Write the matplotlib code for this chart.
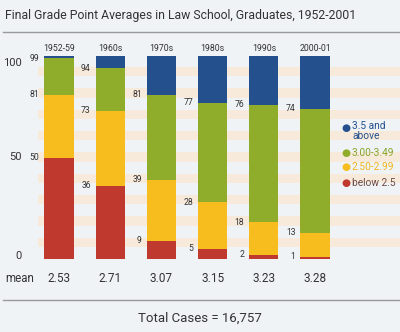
import numpy as np
import matplotlib
matplotlib.use("Agg")
import matplotlib.pyplot as plt

plt.rcParams["font.family"] = ["Roboto", "DejaVu Sans"]

periods = ["1952-59", "1960s", "1970s", "1980s", "1990s", "2000-01"]
means = ["2.53", "2.71", "3.07", "3.15", "3.23", "3.28"]
# cumulative tops of each band (percent)
below_25 = [50, 36, 9, 5, 2, 1]
upto_299 = [81, 73, 39, 28, 18, 13]
upto_349 = [99, 94, 81, 77, 76, 74]
total = [100, 100, 100, 100, 100, 100]

series = ["below 2.5", "2.50-2.99", "3.00-3.49", "3.5 and\nabove"]
colors = ["#c0392e", "#f7bd1f", "#8fad2b", "#24508e"]
text_colors = ["#6e4a44", "#f0b51c", "#86a52a", "#24508e"]

bg = "#eff3f6"
stripe = "#f7eadb"
ink = "#333333"

fig = plt.figure(figsize=(4, 3.32), dpi=100, facecolor=bg)
ax = fig.add_axes([0, 1 - 262 / 332, 1, 210 / 332])
ax.set_facecolor(bg)
for s in ax.spines.values():
    s.set_visible(False)
ax.set_xticks([])
ax.set_yticks([])

x = np.arange(len(periods))
ax.set_xlim(-59 / 51.2, (400 - 59) / 51.2)
ax.set_ylim(-3 / 2.03, 100 + 4 / 2.03)

# striped background
for k in np.arange(6, 100, 10.5):
    ax.axhspan(k, k + 4.5, xmin=0.095, xmax=1, color=stripe, lw=0, zorder=0)

tops = [below_25, upto_299, upto_349, total]
bottom = np.zeros(len(periods))
for top, c in zip(tops, colors):
    top = np.array(top, dtype=float)
    ax.bar(x, top - bottom, bottom=bottom, width=0.57, color=c, zorder=2)
    bottom = top

# cumulative labels left of the bars
for top in [below_25, upto_299, upto_349]:
    for i, v in enumerate(top):
        ax.text(i - 0.38, v, str(v), ha="right", va="center",
                fontsize=6.2, color=ink)

for i, p in enumerate(periods):
    ax.text(i, 103.5, p, ha="center", va="center", fontsize=6.3,
            color=ink, clip_on=False)
    ax.text(i, -9.5, means[i], ha="center", va="center", fontsize=8.5,
            color=ink, clip_on=False)

ax.text(-1.15 + 5 / 51.2, -9.5, "mean", ha="left", va="center",
        fontsize=8.3, color=ink, clip_on=False)

# y labels
for v, yy in [("100", 96.5), ("50", 50), ("0", 1.5)]:
    ax.text(-1.15 + 22 / 51.2, yy, v, ha="right", va="center",
            fontsize=8, color=ink, clip_on=False)

# legend
leg_y = [183, 167, 153, 128]
for lab, c, tc, py in zip(series, colors, text_colors, leg_y):
    fy = 1 - py / 332
    fig.text(346 / 400, fy, "\u25cf", ha="center", va="center",
             fontsize=7.5, color=c, family="DejaVu Sans")
    fig.text(352 / 400, fy + (0.02 if "\n" in lab else 0), lab, ha="left",
             va="top" if "\n" in lab else "center",
             fontsize=7.3, color=tc, linespacing=0.95)

fig.text(5 / 400, 1 - 16 / 332,
         "Final Grade Point Averages in Law School, Graduates, 1952-2001",
         ha="left", va="center", fontsize=8.8, color=ink)
fig.add_artist(plt.Line2D([3 / 400, 1], [1 - 32 / 332] * 2, color="#9a9a9a", lw=1))
fig.add_artist(plt.Line2D([3 / 400, 1], [1 - 300 / 332] * 2, color="#9a9a9a", lw=1))
fig.text(0.5, 1 - 318 / 332, "Total Cases = 16,757", ha="center", va="center",
         fontsize=9.5, color=ink)

fig.savefig("out.png", dpi=100, facecolor=bg)
